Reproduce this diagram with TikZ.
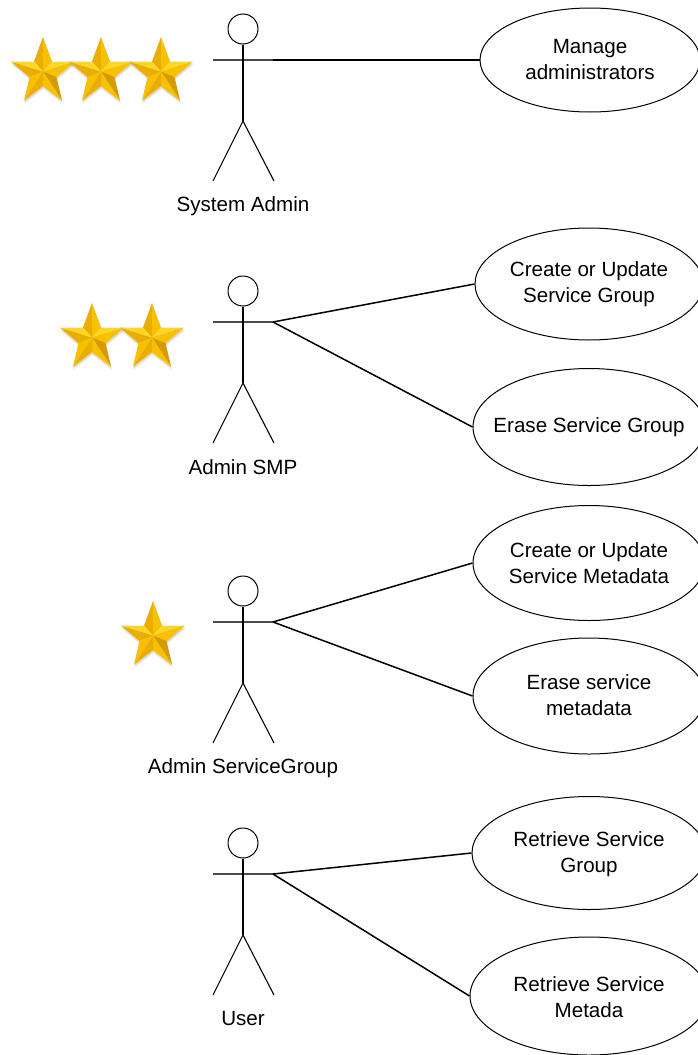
\documentclass[tikz,border=0pt]{standalone}
\usepackage{fontspec}
\setmainfont{Liberation Sans}
\usetikzlibrary{shapes.geometric}
\definecolor{gA}{HTML}{FFD626}
\definecolor{gB}{HTML}{EAAE00}
\definecolor{gC}{HTML}{F7C000}
\definecolor{gD}{HTML}{D49C00}
\tikzset{
  x=1pt,y=-1pt,
  uc/.style={draw=black,ellipse,line width=1pt,inner sep=0pt,font=\fontsize{20.6}{26}\selectfont},
  lbl/.style={font=\fontsize{20.6}{24}\selectfont,inner sep=0pt,anchor=base},
  limb/.style={line width=1.1pt,black},
  armline/.style={line width=1.1pt,black!70},
  assoc/.style={line width=1.5pt,black},
  pics/goldstar/.style={code={
    \foreach \op/\sh in {.04/3.5,.06/2.5,.08/1.5}{
      \fill[black,opacity=\op,shift={(0.5,\sh)}]
        (0,-34.5)--(9,-10)--(32,-10)--(13.5,5.5)--(19,29)--(0,14.5)--(-19,29)--(-13.5,5.5)--(-32,-10)--(-9,-10)--cycle;}
    \fill[gB] (0,0)--(0,-34.5)--(-9,-10)--cycle;
    \fill[gC] (0,0)--(0,-34.5)--(9,-10)--cycle;
    \fill[gA] (0,0)--(9,-10)--(32,-10)--cycle;
    \fill[gC] (0,0)--(32,-10)--(13.5,5.5)--cycle;
    \fill[gD] (0,0)--(13.5,5.5)--(19,29)--cycle;
    \fill[gC] (0,0)--(19,29)--(0,14.5)--cycle;
    \fill[gB] (0,0)--(0,14.5)--(-19,29)--cycle;
    \fill[gC] (0,0)--(-19,29)--(-13.5,5.5)--cycle;
    \fill[gB] (0,0)--(-13.5,5.5)--(-32,-10)--cycle;
    \fill[gA] (0,0)--(-32,-10)--(-9,-10)--cycle;
  }},
}
\newcommand{\actor}[2]{%
  \coordinate (#1arm) at (273,#2);
  \coordinate (#1armL) at (213,#2);
  \coordinate (#1hip) at (243,#2+61);
  \coordinate (#1footL) at (213,#2+121);
  \coordinate (#1footR) at (274,#2+121);
  \node[draw=black,circle,line width=1pt,minimum size=30pt,inner sep=0pt] (#1head) at (243,#2-31) {};
  \draw[armline] (#1armL)--(#1arm);
  \draw[limb] (#1head.south)--(#1hip);
  \draw[limb] (#1footL)--(#1hip)--(#1footR);
}
% text of two lines, moved down by #1 within its ellipse
\newcommand{\ucl}[3]{\makebox[0pt][c]{\raisebox{-#1}[\dimexpr\height+#1\relax][\dimexpr\depth+#1\relax]{\begin{tabular}{@{}c@{}}#2\\[0pt]#3\end{tabular}}}}
\begin{document}
\begin{tikzpicture}
\useasboundingbox (0,0) rectangle (698,1055);
\actor{a}{60}
\actor{b}{322}
\actor{c}{622}
\actor{d}{874}
\node[lbl] (la) at (243,211) {System Admin};
\node[lbl] (lb) at (243,474) {Admin SMP};
\node[lbl] (lc) at (243,773) {Admin ServiceGroup};
\node[lbl] (ld) at (243,1025) {User};
\node[uc,minimum width=220pt,minimum height=104pt] (u1) at (590,60) {\ucl{1.5pt}{Manage}{administrators}};
\node[uc,minimum width=228pt,minimum height=112pt] (u2) at (589,284) {\ucl{0pt}{Create or Update}{Service Group}};
\node[uc,minimum width=232pt,minimum height=117pt] (u3) at (589,427) {\makebox[0pt][c]{Erase Service Group}};
\node[uc,minimum width=232pt,minimum height=115pt] (u4) at (589,563) {\ucl{2pt}{Create or Update}{Service Metadata}};
\node[uc,minimum width=232pt,minimum height=116pt] (u5) at (589,696) {\ucl{1pt}{Erase service}{metadata}};
\node[uc,minimum width=234pt,minimum height=113pt] (u6) at (589,853) {\ucl{1pt}{Retrieve Service}{Group}};
\node[uc,minimum width=238pt,minimum height=118pt] (u7) at (589,996) {\ucl{3pt}{Retrieve Service}{Metada}};
\draw[assoc] (aarm)--(u1.west);
\draw[assoc] (barm)--(u2.west);
\draw[assoc] (barm)--(u3.west);
\draw[assoc] (carm)--(u4.west);
\draw[assoc] (carm)--(u5.west);
\draw[assoc] (darm)--(u6.west);
\draw[assoc] (darm)--(u7.west);
\pic at (43,71.5) {goldstar};
\pic at (101,71.5) {goldstar};
\pic at (161,71.5) {goldstar};
\pic at (92,337.5) {goldstar};
\pic at (152,337.5) {goldstar};
\pic at (153,635.5) {goldstar};
\end{tikzpicture}
\end{document}
